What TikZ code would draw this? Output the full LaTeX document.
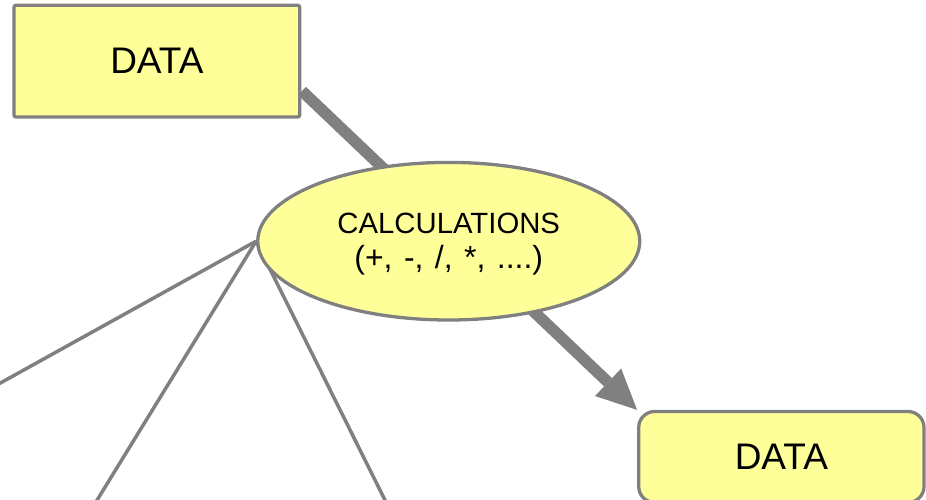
\documentclass[tikz,border=0pt]{standalone}
\usepackage{fontspec}
\setmainfont{Liberation Sans}
\usetikzlibrary{arrows.meta,shapes.geometric,backgrounds}
\definecolor{cmgray}{HTML}{808080}
\definecolor{cmyellow}{HTML}{FFFF99}
\tikzset{
  concept/.style={draw=cmgray, line width=3.3pt, fill=cmyellow, inner sep=0pt,
    font=\fontsize{37}{44}\selectfont},
  linkphrase/.style={ellipse, draw=cmgray, line width=3.3pt, fill=cmyellow,
    inner sep=0pt, align=center, font=\fontsize{29.3}{35}\selectfont},
  thinlink/.style={draw=cmgray, line width=3.5pt},
  biglink/.style={draw=cmgray, line width=11.5pt,
    -{Triangle[length=40pt,width=38pt,line width=0pt]}},
}
\begin{document}
\begin{tikzpicture}[x=1pt,y=-1pt]
\useasboundingbox (0,0) rectangle (926,500);
\node[concept, rounded corners=2pt, minimum width=285.7pt, minimum height=111.7pt]
  (d1) at (156.85,61.15) {DATA};
\node[concept, rounded corners=16pt, minimum width=285.3pt, minimum height=91pt]
  (d2) at (781.35,457) {DATA};
\node[linkphrase, minimum width=382pt, minimum height=157.6pt] (calc) at (448.75,241.2)
  {\rule{0pt}{25.5pt}CALCULATIONS\\
   \fontsize{32}{35}\selectfont\spaceskip=11.4pt (+, -, /, *, ....)};
\begin{pgfonlayer}{background}
\begin{scope}
\clip (0,0) rectangle (926,500);
\coordinate (a1) at (302,91);
\coordinate (e1) at (-51.2,411.6);
\coordinate (e2) at (65.2,552);
\coordinate (e3) at (410.8,552);
\draw[biglink] (a1) -- (d2.north west);
\draw[thinlink] (calc.west) -- (e1);
\draw[thinlink] (calc.west) -- (e2);
\draw[thinlink] (calc.west) -- (e3);
\end{scope}
\end{pgfonlayer}
\end{tikzpicture}
\end{document}
